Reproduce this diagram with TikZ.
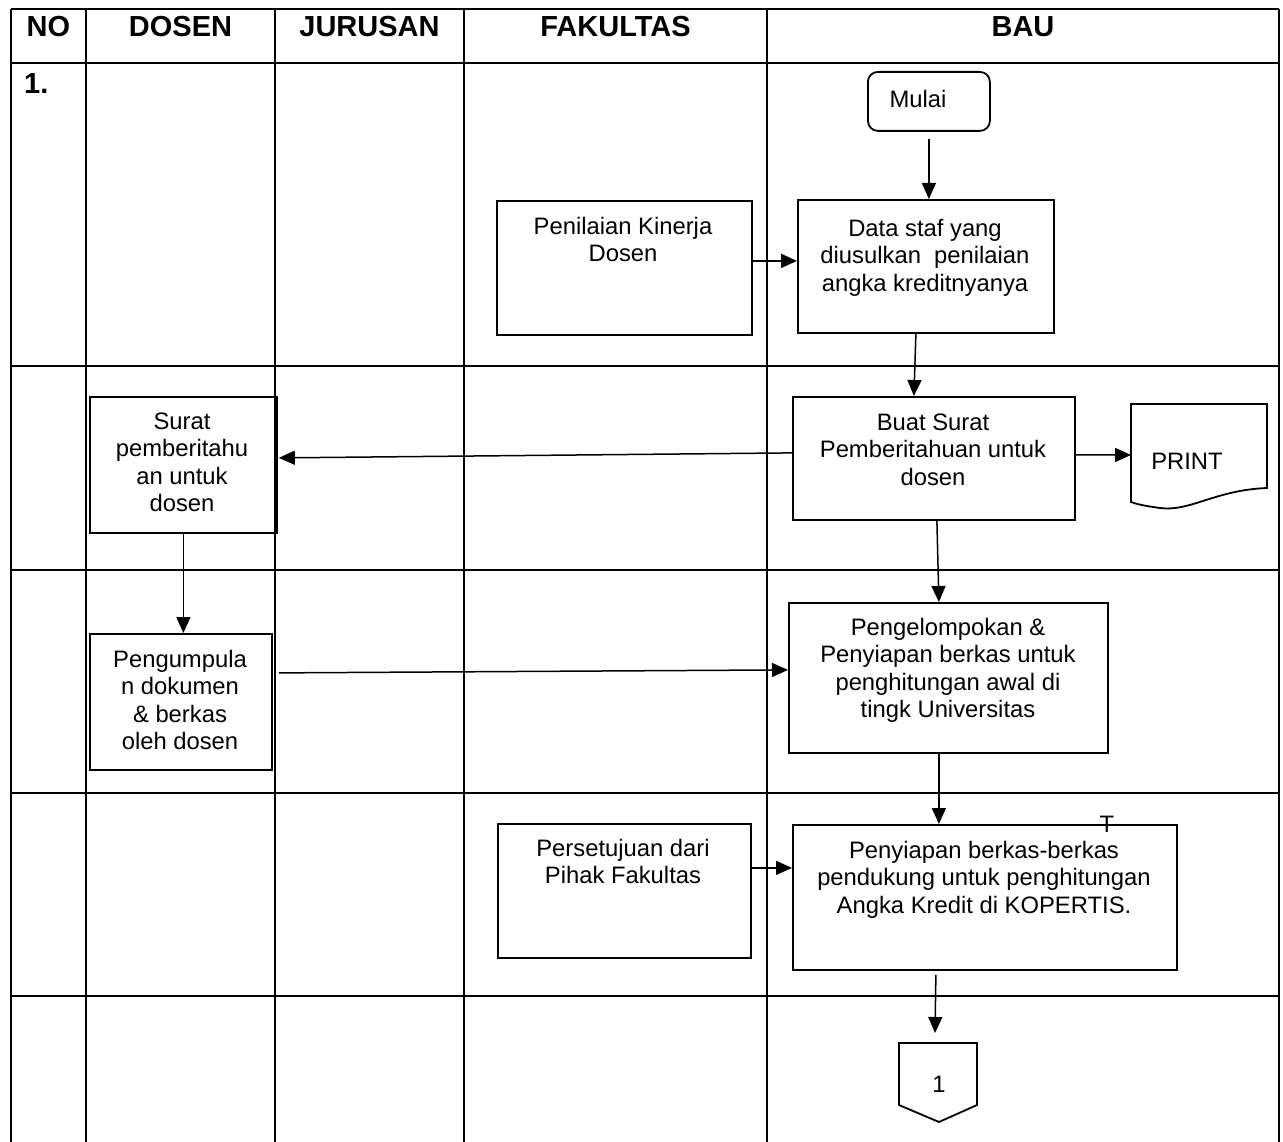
\documentclass[tikz,border=0pt]{standalone}
\usepackage{fontspec}
\setmainfont{Liberation Sans}
\usetikzlibrary{arrows.meta,calc}
\newcommand{\mystrut}{\rule{0pt}{18pt}}
\begin{document}
\begin{tikzpicture}[x=1pt,y=-1pt,
  gridline/.style={line width=1.4pt},
  box/.style={draw,line width=1.8pt,rectangle,inner sep=0pt,anchor=north west},
  shapeline/.style={line width=1.8pt},
  txt/.style={font=\fontsize{23.8}{27.5}\selectfont,align=center,inner sep=0pt,anchor=north},
  hdr/.style={font=\fontsize{29}{32}\selectfont\bfseries,inner sep=0pt,anchor=base},
  arr/.style={line width=1.5pt,-{Triangle[length=16pt,width=14pt]}}]
\useasboundingbox (0,0) rectangle (1283,1142);

% table grid
\draw[gridline] (11,9) -- (1279,9);
\foreach \yy in {63,366,570,793,996} \draw[gridline] (11,\yy) -- (1279,\yy);
\foreach \xx in {11,86,275,464,767,1279} \draw[gridline] (\xx,9) -- (\xx,1142);

% headers
\node[hdr] (hno)  at (48.5,37) {NO};
\node[hdr] (hdos) at (180.5,37) {DOSEN};
\node[hdr] (hjur) at (369.5,37) {JURUSAN};
\node[hdr] (hfak) at (615.5,37) {FAKULTAS};
\node[hdr] (hbau) at (1023,37) {BAU};
\node[hdr,anchor=base west] (rownum) at (24,94) {1.};

% boxes
\node[box,rounded corners=10pt,minimum width=122pt,minimum height=59pt] (mulai) at (867,71) {};
\node[box,minimum width=256pt,minimum height=133pt] (data) at (797,199) {};
\node[box,minimum width=255pt,minimum height=134pt] (pen) at (496,200) {};
\node[box,minimum width=282pt,minimum height=123pt] (buat) at (792,396) {};
\node[box,minimum width=187pt,minimum height=136pt] (surat) at (89,396) {};
\node[box,minimum width=182pt,minimum height=136pt] (peng) at (89,633) {};
\node[box,minimum width=319pt,minimum height=150pt] (kel) at (788,602) {};
\node[box,minimum width=253pt,minimum height=134pt] (setuju) at (497,823) {};
\node[box,minimum width=384pt,minimum height=145pt] (siap) at (792,824) {};

% document (PRINT) shape
\draw[shapeline] (1131,404) -- (1267,404) -- (1267,488)
  .. controls (1215,490) and (1190,512) .. (1160,508)
  .. controls (1145,506) and (1136,504) .. (1131,502) -- cycle;
\coordinate (printin) at (1131,455);

% off-page connector
\draw[shapeline] (899,1043) -- (977,1043) -- (977,1105) -- (939,1122) -- (899,1105) -- cycle;
\coordinate (offin) at (935,1033);

% texts
\node[txt] (tmulai) at (918,89) {\mystrut Mulai};
\node[txt] (tdata) at (925,218) {\mystrut Data staf yang\\diusulkan\ \ penilaian\\angka kreditnyanya};
\node[txt] (tpen) at (623,216) {\mystrut Penilaian Kinerja\\Dosen};
\node[txt] (tbuat) at (933,412) {\mystrut Buat Surat\\Pemberitahuan untuk\\dosen};
\node[txt] (tprint) at (1187,451) {\mystrut PRINT};
\node[txt] (tsurat) at (182,411) {\mystrut Surat\\pemberitahu\\an untuk\\dosen};
\node[txt] (tpeng) at (180,649) {\mystrut Pengumpula\\n dokumen\\\& berkas\\oleh dosen};
\node[txt] (tkel) at (948,617) {\mystrut Pengelompokan \&\\Penyiapan berkas untuk\\penghitungan awal di\\tingk Universitas};
\node[txt] (tsetuju) at (623,838) {\mystrut Persetujuan dari\\Pihak Fakultas};
\node[txt] (tsiap) at (984,840) {\mystrut Penyiapan berkas-berkas\\pendukung untuk penghitungan\\Angka Kredit di KOPERTIS.};
\node[txt] (toff) at (939,1074) {\mystrut 1};
\node[txt] (tmark) at (1107,814) {\mystrut T};

% connectors
\draw[arr] ($(mulai.south)+(0,7)$) -- (mulai.south |- data.north);
\draw[arr] ($(pen.east)+(0,-7)$) -- ($(data.west)+(0,-5.5)$);
\draw[arr] ($(data.south)+(-10,0)$) -- ($(buat.north)+(-20,0)$);
\draw[arr] ($(buat.east)+(0,-3.5)$) -- (printin);
\draw[arr] ($(buat.west)+(0,-5.5)$) -- ($(surat.east)+(1,-7)$);
\draw[arr] (surat.south) -- (surat.south |- peng.north);
\draw[arr] ($(peng.east)+(6,-29)$) -- ($(kel.west)+(0,-8)$);
\draw[arr] ($(buat.south)+(3,0)$) -- ($(kel.north)+(-9.5,0)$);
\draw[arr] ($(kel.south)+(-9.5,0)$) -- ($(siap.north)+(-46,0)$);
\draw[arr] ($(setuju.east)+(0,-23)$) -- ($(siap.west)+(0,-29.5)$);
\draw[arr] ($(siap.south)+(-49,4)$) -- (offin);
\end{tikzpicture}
\end{document}
